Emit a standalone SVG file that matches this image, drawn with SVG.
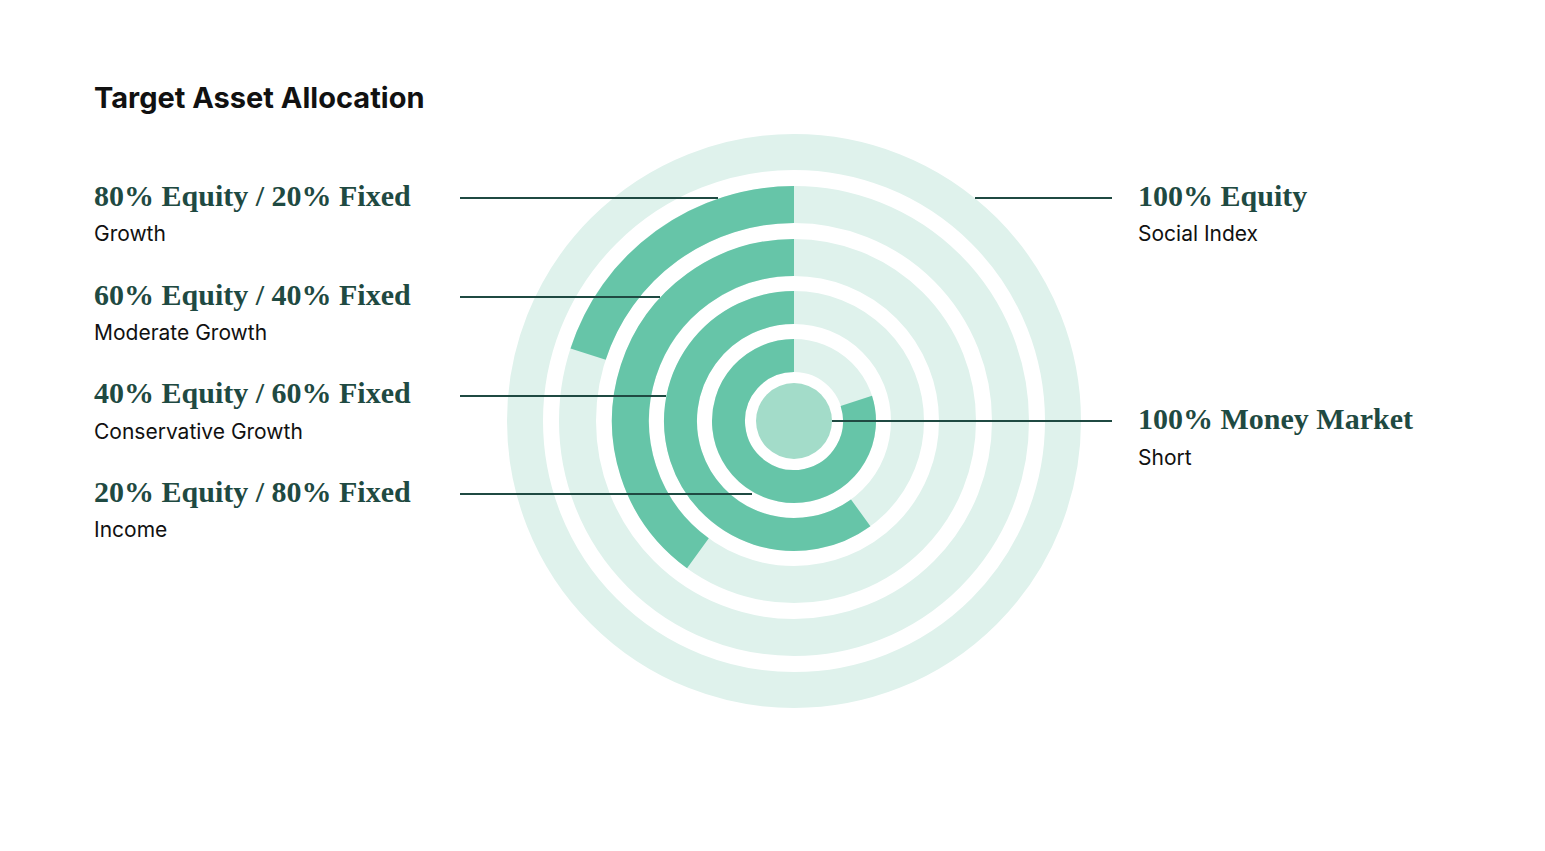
<svg xmlns="http://www.w3.org/2000/svg" width="1545" height="851" viewBox="0 0 1545 851">
<style>
.lt{fill:none;stroke:#dff2ec}
.dk{fill:none;stroke:#66c5a8}
.ln{stroke:#1f4a42;stroke-width:2}
.h{font-family:"Liberation Serif",serif;font-weight:bold;font-size:30px;fill:#1f4a42}
.s{font-family:Inter,"Noto Sans",sans-serif;font-size:21px;fill:#111}
</style>
<rect width="1545" height="851" fill="#fff"/>
<text x="94" y="108" font-family="Inter,'Noto Sans',sans-serif" font-weight="bold" font-size="29" fill="#111">Target Asset Allocation</text>
<g id="ring-equity"><circle class="lt" cx="794" cy="421" r="269" stroke-width="36"/></g>
<g id="ring-growth"><circle class="lt" cx="794" cy="421" r="216.5" stroke-width="37"/><path class="dk" stroke-width="37" d="M794,204.5 A216.5,216.5 0 0 0 588.1,354.1"/></g>
<g id="ring-moderate"><circle class="lt" cx="794" cy="421" r="163.5" stroke-width="37"/><path class="dk" stroke-width="37" d="M794,257.5 A163.5,163.5 0 0 0 697.9,553.3"/></g>
<g id="ring-conservative"><circle class="lt" cx="794" cy="421" r="113.5" stroke-width="33"/><path class="dk" stroke-width="33" d="M794,307.5 A113.5,113.5 0 1 0 860.7,512.8"/></g>
<g id="ring-income"><circle class="lt" cx="794" cy="421" r="65.5" stroke-width="33"/><path class="dk" stroke-width="33" d="M794,355.5 A65.5,65.5 0 1 0 856.3,400.8"/></g>
<g id="center"><circle cx="794" cy="421" r="38" fill="#a3dcc9"/></g>
<g id="connectors">
<line class="ln" x1="460" y1="198" x2="718" y2="198"/>
<line class="ln" x1="460" y1="297" x2="660" y2="297"/>
<line class="ln" x1="460" y1="396" x2="666" y2="396"/>
<line class="ln" x1="460" y1="494" x2="752" y2="494"/>
<line class="ln" x1="975" y1="198" x2="1112" y2="198"/>
<line class="ln" x1="832" y1="421" x2="1112" y2="421"/>
</g>
<g id="label-growth"><text class="h" x="94" y="206">80% Equity / 20% Fixed</text><text class="s" x="94" y="241">Growth</text></g>
<g id="label-moderate"><text class="h" x="94" y="305">60% Equity / 40% Fixed</text><text class="s" x="94" y="340">Moderate Growth</text></g>
<g id="label-conservative"><text class="h" x="94" y="403">40% Equity / 60% Fixed</text><text class="s" x="94" y="439">Conservative Growth</text></g>
<g id="label-income"><text class="h" x="94" y="502">20% Equity / 80% Fixed</text><text class="s" x="94" y="537">Income</text></g>
<g id="label-equity"><text class="h" x="1138" y="206">100% Equity</text><text class="s" x="1138" y="241">Social Index</text></g>
<g id="label-money"><text class="h" x="1138" y="429">100% Money Market</text><text class="s" x="1138" y="465">Short</text></g>
</svg>
